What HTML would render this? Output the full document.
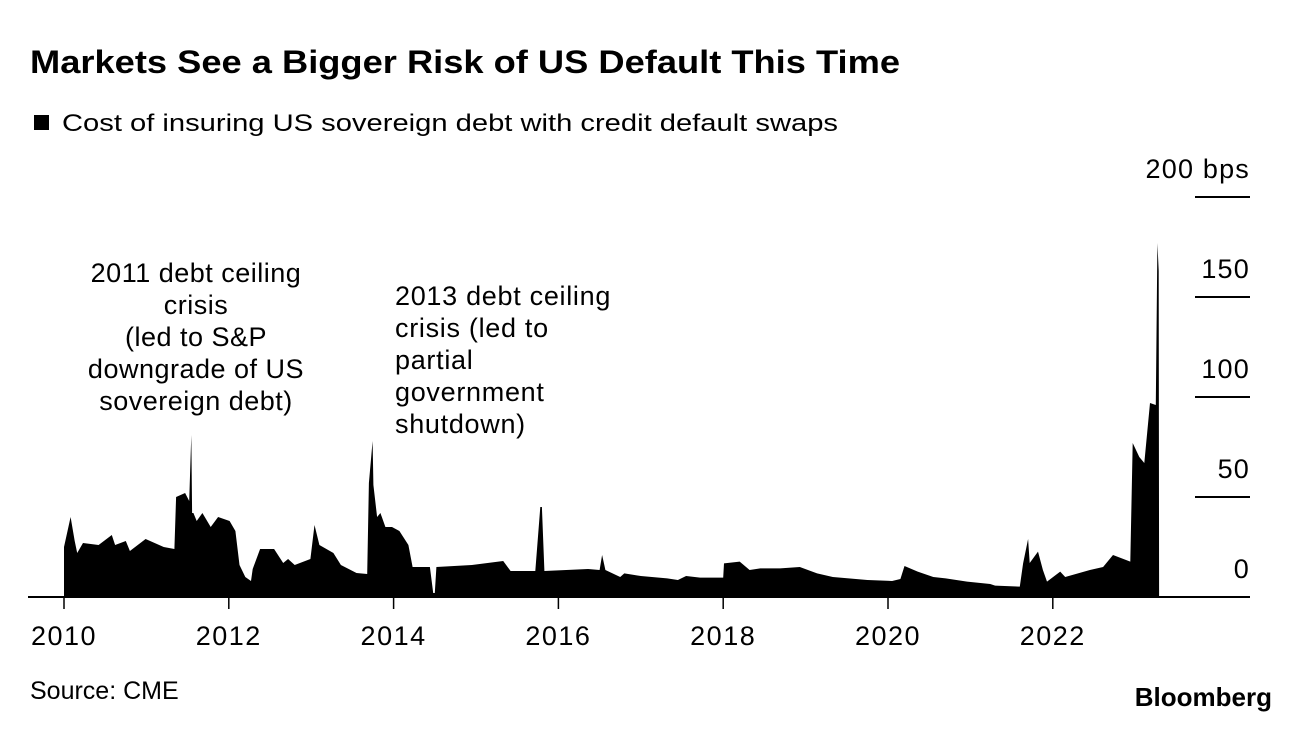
<!DOCTYPE html>
<html><head><meta charset="utf-8"><style>
body{margin:0;background:#fff;}
svg text{font-family:"Liberation Sans",Arial,sans-serif;fill:#000;}
</style></head><body>
<svg width="1296" height="730" xmlns="http://www.w3.org/2000/svg">
<text x="30" y="73" font-size="32" font-weight="bold" textLength="870" lengthAdjust="spacingAndGlyphs">Markets See a Bigger Risk of US Default This Time</text>
<rect x="34" y="115" width="15" height="15" fill="#000"/>
<text x="62" y="131" font-size="24" textLength="776" lengthAdjust="spacingAndGlyphs">Cost of insuring US sovereign debt with credit default swaps</text>
<g id="yaxis"></g>
<g id="xaxis"></g>
<path id="area" fill="#000"/>
<g font-size="27" letter-spacing="0.5" text-anchor="middle">
<text x="196" y="282">2011 debt ceiling</text><text x="196" y="314">crisis</text><text x="196" y="346">(led to S&amp;P</text><text x="196" y="378">downgrade of US</text><text x="196" y="410">sovereign debt)</text></g>
<g font-size="27" letter-spacing="0.7">
<text x="395" y="305">2013 debt ceiling</text><text x="395" y="337">crisis (led to</text><text x="395" y="369">partial</text><text x="395" y="401">government</text><text x="395" y="433">shutdown)</text></g>
<text x="30" y="699" font-size="25">Source: CME</text>
<text x="1272" y="706" font-size="26" font-weight="bold" text-anchor="end">Bloomberg</text>
</svg>
<script>
const years=[2010.0,2010.08,2010.13,2010.16,2010.23,2010.42,2010.58,2010.62,2010.75,2010.8,2010.99,2011.21,2011.34,2011.36,2011.47,2011.52,2011.545,2011.555,2011.57,2011.61,2011.68,2011.78,2011.87,2012.01,2012.08,2012.13,2012.2,2012.27,2012.29,2012.38,2012.55,2012.66,2012.72,2012.8,2012.99,2013.04,2013.1,2013.27,2013.36,2013.55,2013.68,2013.7,2013.745,2013.755,2013.8,2013.84,2013.9,2013.98,2014.07,2014.18,2014.23,2014.44,2014.48,2014.5,2014.52,2014.95,2015.33,2015.42,2015.72,2015.78,2015.8,2015.83,2016.36,2016.5,2016.53,2016.57,2016.75,2016.8,2017.0,2017.32,2017.45,2017.55,2017.72,2018.0,2018.01,2018.2,2018.32,2018.45,2018.69,2018.93,2019.14,2019.33,2019.75,2020.05,2020.15,2020.2,2020.36,2020.55,2020.7,2020.96,2021.24,2021.3,2021.6,2021.64,2021.70,2021.72,2021.82,2021.88,2021.93,2022.09,2022.15,2022.45,2022.61,2022.73,2022.94,2022.97,2023.05,2023.11,2023.18,2023.25,2023.27,2023.285,2023.29];
const values=[25,40,28,22,27,26,31,26,28,23,29,25,24,50,52,48,81,42,42,38,42,35,40,38,33,16,10,8,14,24,24,17,19,16,19,36,26,22,16,12,11.5,57,78,56,40,42,35,35,33,26,15,15,2,2,15,16,18,13,13,45,45,13,14,13.5,21,13.5,10,11.8,10.5,9.3,8.5,10.5,9.7,9.7,16.8,17.7,13.5,14.3,14.3,15,11.8,10,8.5,8,9,15.5,12.7,10,9.3,7.7,6.5,5.7,5.2,16.8,29,17,22.7,13.5,7.7,12.7,10,13.5,15,21,17.7,77,70,67,97,96,177,163,0];
const yTicks=[0,50,100,150,200];
const xTicks=[2010,2012,2014,2016,2018,2020,2022];
const X=y=>64+(y-2010)*82.4;
const Y=v=>597-v*2;
const NS="http://www.w3.org/2000/svg";
let d="M"+X(years[0])+","+Y(0);
for(let i=0;i<years.length;i++)d+=" L"+X(years[i]).toFixed(1)+","+Y(values[i]).toFixed(1);
d+=" L"+X(years[years.length-1]).toFixed(1)+","+Y(0)+"Z";
document.getElementById('area').setAttribute('d',d);
const ya=document.getElementById('yaxis'),xa=document.getElementById('xaxis');
yTicks.forEach(t=>{
 if(t>0){const l=document.createElementNS(NS,'line');
 
 
 l.setAttribute('x1',1195);l.setAttribute('x2',1250);l.setAttribute('y1',Y(t));l.setAttribute('y2',Y(t));l.setAttribute('stroke','#000');l.setAttribute('stroke-width',2);ya.appendChild(l);}
 const tx=document.createElementNS(NS,'text');
 
 
 tx.setAttribute('x',1250);tx.setAttribute('y',Y(t)-19);tx.setAttribute('text-anchor','end');tx.setAttribute('font-size','27');tx.setAttribute('letter-spacing','1.2');
 tx.textContent=t===200?'200 bps':String(t);ya.appendChild(tx);
});
const base=document.createElementNS(NS,'line');


base.setAttribute('x1',28);base.setAttribute('x2',1250);base.setAttribute('y1',597);base.setAttribute('y2',597);base.setAttribute('stroke','#000');base.setAttribute('stroke-width',2);xa.appendChild(base);
xTicks.forEach(t=>{
 const l=document.createElementNS(NS,'line');
 
 
 l.setAttribute('x1',X(t));l.setAttribute('x2',X(t));l.setAttribute('y1',597);l.setAttribute('y2',609);l.setAttribute('stroke','#000');l.setAttribute('stroke-width',1.5);xa.appendChild(l);
 const tx=document.createElementNS(NS,'text');
 
 
 tx.setAttribute('x',X(t));tx.setAttribute('y',645);tx.setAttribute('text-anchor','middle');tx.setAttribute('font-size','27');tx.setAttribute('letter-spacing','1.5');
 tx.textContent=t;xa.appendChild(tx);
});
</script>
</body></html>
